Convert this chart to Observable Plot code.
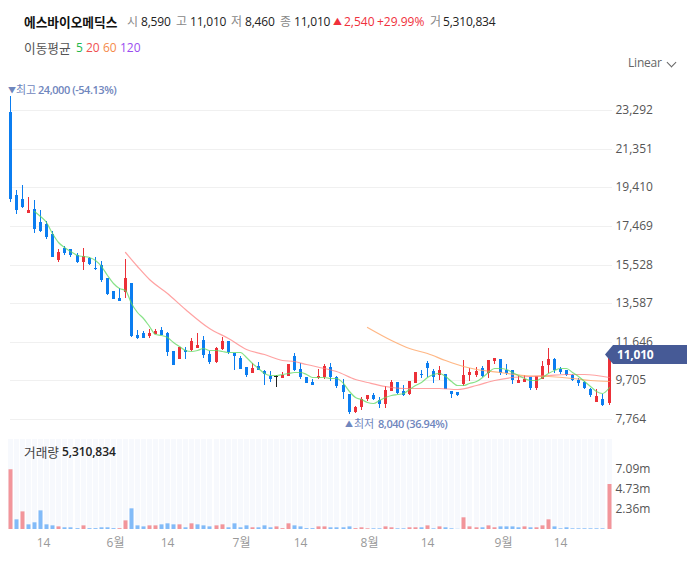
<!DOCTYPE html>
<html>
<head>
<meta charset="utf-8">
<script src="https://cdn.jsdelivr.net/npm/d3@7"></script>
<script src="https://cdn.jsdelivr.net/npm/@observablehq/plot@0.6"></script>
<style>
  body { margin: 0; background: #fff; }
  #page { position: relative; width: 687px; height: 562px; overflow: hidden; font-family: "Open Sans", "Noto Sans CJK KR", sans-serif; font-size: 12px; }
  #page > div { position: absolute; }
  .lbl { white-space: nowrap; line-height: 16px; }
  #flag { left: 605px; top: 345px; width: 82px; height: 19px; background: #465a96; clip-path: polygon(0 50%, 8px 0, 100% 0, 100% 100%, 8px 100%); color: #fff; font-weight: 700; line-height: 19px; padding-left: 12px; box-sizing: border-box; letter-spacing: -0.2px; }
</style>
</head>
<body>
<div id="page"></div>
<script>
const opens = [23190,19020,18820,18120,18320,17660,17560,17060,15750,16360,16310,16000,15650,15850,15350,15500,14850,14200,13840,14150,
  14600,11980,12090,11930,12030,12240,12090,11180,10780,11230,11230,11330,11730,11030,10630,11280,11680,11080,10810,10380,
  10080,10430,10180,9930,9900,9820,9930,10930,10290,9880,9620,9810,9880,10380,9880,9470,9020,8120,8370,8770,
  8970,8720,8520,9170,9620,9170,9020,9560,10030,10580,10180,9980,10030,9170,9120,9520,9980,9980,10330,10080,
  10680,10780,10230,10230,9570,9620,9880,9320,9770,10480,10780,10280,10230,9980,9720,9620,9270,8620,8770,8590];
const highs = [24000,19270,19520,18900,18770,18270,17730,17210,16290,16470,16310,16110,16360,15900,15900,15700,14850,14200,14350,15800,
  14600,12240,12190,12290,12300,12390,12140,11180,11380,11380,11820,12070,11930,11180,11380,11880,11680,11080,10930,10380,
  10560,10630,10230,10160,9980,10130,10530,11080,10580,9880,9770,10280,10530,10580,9930,9770,9020,8420,8870,8970,
  9070,8870,9420,9720,9620,9470,9670,10130,10230,10680,10280,10430,10030,9170,9120,10730,10330,10380,10430,10730,
  10830,10780,10530,10230,9930,9980,9880,9930,10680,11330,10830,10380,10230,10030,9820,9670,9320,9270,9020,11010];
const lows = [18680,18070,18370,18120,17130,17150,16810,15900,15650,15990,15900,15600,15250,15500,15250,14650,13980,13790,13690,13840,
  11880,11780,11830,11830,12020,11980,10930,10480,10780,10780,11180,11330,10830,10530,10580,11230,11030,10230,10280,9890,
  10080,10230,9470,9620,9390,9820,9930,10180,9770,9570,9470,9770,9770,9670,9320,8770,8040,8080,8220,8670,
  8720,8320,8320,9170,9020,8900,8970,9560,9810,9860,9560,9720,9270,8820,8920,9420,9670,9880,9880,9820,
  10530,9980,9980,9520,9570,9620,9220,9220,9770,10080,10080,10030,9930,9670,9420,9270,8870,8620,8420,8460];
const closes = [18830,18280,18430,18270,17330,17210,16910,15900,16160,16110,16000,15650,15950,15550,15320,14750,14050,13790,13690,14850,
  11930,11830,11830,12090,12190,11980,11130,10480,11380,11150,11680,11480,10980,10630,11330,11680,11130,10950,10280,9980,
  10330,10230,10030,9770,9900,9980,10530,10230,9880,9570,9470,9930,10430,9880,9420,9120,8120,8370,8770,8970,
  8770,8520,9220,9620,9070,8970,9670,10130,9980,10330,9880,10230,9270,9020,8970,9980,10130,10180,9930,10730,
  10830,10080,10080,9720,9720,9770,9320,9930,10430,10780,10230,10130,9980,9720,9570,9320,8970,8920,8470,11010];

const ma5Start = 4;
const ma5 = [18230,17970,17680,17110,16660,16420,16210,16000,15950,15900,15750,15450,15000,14600,14360,14250,
  13610,13160,12820,12450,12020,11980,11870,11620,11450,11230,11200,11230,11320,11230,11210,11180,11150,11130,11120,10890,
  10560,10310,10090,9990,9980,10030,10090,10110,10110,10030,9890,9860,9850,9840,9810,9560,9180,8880,8760,8630,
  8580,8720,8860,8990,9020,9090,9260,9450,9640,9860,10030,10060,9920,9690,9470,9470,9560,9690,9890,10140,
  10330,10340,10260,10140,9980,9810,9720,9720,9860,10090,10230,10330,10310,10140,9920,9670,9420,9180,9050,9360];
const ma20Idx = [19,21,23,26,29,33,36,39,42,45,47,49,52,54,57,59,62,65,68,71,74,77,80,83,86,89,92,95,99];
const ma20 = [16150,15450,14780,14110,13280,12350,11830,11300,11050,10730,10680,10510,10330,10190,9790,9640,9420,9320,9320,9310,9260,9470,9720,9870,9930,9960,10030,10030,9860];
const ma60Idx = [59,63,66,69,72,75,77,81,85,89,93,96,99];
const ma60 = [12370,11730,11350,11060,10750,10450,10260,10140,9980,9910,9840,9720,9690];

// volumes in millions of shares
const volumes = [7.05,1.14,2.08,0.55,0.79,2.2,0.55,0.43,0.31,0.2,0.2,0.1,0.43,0.1,0.1,0.2,0.2,0.1,0.1,1.02,
  2.44,0.43,0.31,0.43,0.43,0.55,0.67,0.55,0.55,0.2,0.67,0.55,0.43,0.31,0.43,0.55,0.2,0.67,0.2,0.43,
  0.2,0.2,0.43,0.2,0.31,0.1,0.67,0.43,0.31,0.1,0.1,0.31,0.31,0.2,0.2,0.2,0.31,0.1,0.2,0.08,
  0.08,0.08,0.31,0.2,0.08,0.08,0.2,0.2,0.2,0.43,0.08,0.31,0.2,0.08,0.02,1.38,0.31,0.2,0.2,0.43,
  0.2,0.31,0.31,0.31,0.2,0.31,0.2,0.2,0.43,1.14,0.31,0.08,0.2,0.08,0.08,0.08,0.08,0.08,0.08,5.31];
// days whose volume bar is red
const volumeUpDays = [0,2,8,12,18,19,23,24,28,30,34,35,40,44,45,46,51,52,57,58,59,62,63,66,67,69,71,75,76,77,79,80,85,87,88,89,99];

const priceTicks = [7764,9705,11646,13587,15528,17469,19410,21351,23292];
const volumeTicks = [2.36,4.73,7.09];
const monthTicks = [5.4,17.3,26,38.2,48,59.4,68.9,81.5,91];
const monthLabels = ["14","6월","14","7월","14","8월","14","9월","14"];

const RED = "#ec3038";
const BLUE = "#0b7df0";
const FONT = '"Open Sans", "Noto Sans CJK KR", sans-serif';
const xRange = [10, 608.5];

const candles = closes.map((c, i) => ({i, open: opens[i], high: highs[i], low: lows[i], close: c}));
const kind = d => d.close > d.open ? "up" : d.close < d.open ? "down" : "flat";

function candleMarks(k, color) {
  const rows = candles.filter(d => kind(d) === k);
  return [
    Plot.ruleX(rows, {x: "i", y1: "low", y2: "high", stroke: color, strokeWidth: 1}),
    Plot.ruleX(rows, {x: "i", y1: "open", y2: "close", stroke: color, strokeWidth: 3})
  ];
}

const pricePlot = Plot.plot({
  width: 687,
  height: 350,
  marginTop: 0, marginBottom: 0, marginLeft: 10, marginRight: 75,
  style: {fontFamily: FONT, fontSize: "12px", background: "transparent"},
  x: {type: "linear", domain: [0, 99], range: xRange, round: true, axis: null},
  y: {domain: [7764, 23292], range: [339, 30], round: true},
  marks: [
    Plot.gridY(priceTicks, {stroke: "#f0f0f0", strokeOpacity: 1}),
    Plot.axisY(priceTicks, {anchor: "right", tickSize: 0, tickPadding: 3, tickFormat: d3.format(","), label: null, color: "#555", fontSize: 12}),
    ...candleMarks("up", RED),
    ...candleMarks("down", BLUE),
    Plot.ruleX(candles.filter(d => kind(d) === "flat"), {x: "i", y1: "low", y2: "high", stroke: "#222"}),
    Plot.ruleY(candles.filter(d => kind(d) === "flat"), {y: "close", x1: d => d.i - 0.3, x2: d => d.i + 0.3, stroke: "#222"}),
    Plot.line(ma60, {x: (d, i) => ma60Idx[i], y: d => d, stroke: "#ffa566", strokeOpacity: 0.8, strokeWidth: 1.2, curve: "monotone-x"}),
    Plot.line(ma20, {x: (d, i) => ma20Idx[i], y: d => d, stroke: "#ff7b7b", strokeOpacity: 0.7, strokeWidth: 1.2, curve: "monotone-x"}),
    Plot.line(ma5, {x: (d, i) => i + ma5Start, y: d => d, stroke: "#60d860", strokeOpacity: 0.75, strokeWidth: 1.2, curve: "monotone-x"})
  ]
});

const volumeRows = volumes.map((v, i) => ({i, v, up: volumeUpDays.includes(i)}));

const volumePlot = Plot.plot({
  width: 687,
  height: 127,
  marginTop: 4, marginBottom: 33, marginLeft: 10, marginRight: 75,
  style: {fontFamily: FONT, fontSize: "12px", background: "transparent"},
  x: {type: "linear", domain: [0, 99], range: xRange, round: true},
  y: {domain: [0, 10.62]},
  marks: [
    Plot.ruleX(volumeRows, {x: "i", y1: 0, y2: 10.62, stroke: "#f7f9fd", strokeWidth: 5}),
    Plot.ruleX(volumeRows.filter(d => d.up), {x: "i", y1: 0, y2: "v", stroke: "#f2959a", strokeWidth: 4}),
    Plot.ruleX(volumeRows.filter(d => !d.up), {x: "i", y1: 0, y2: "v", stroke: "#82bbf8", strokeWidth: 4}),
    Plot.axisY(volumeTicks, {anchor: "right", tickSize: 0, tickPadding: 3, tickFormat: d => d + "m", label: null, color: "#555", fontSize: 12}),
    Plot.axisX(monthTicks, {anchor: "bottom", tickSize: 0, tickPadding: 9, tickFormat: d => monthLabels[monthTicks.indexOf(d)], label: null, color: "#999", fontSize: 12})
  ]
});

const page = document.getElementById("page");

function place(el, top) {
  const box = document.createElement("div");
  box.style.cssText = `left:0;top:${top}px`;
  box.appendChild(el);
  page.appendChild(box);
}
place(pricePlot, 80);
place(volumePlot, 435);

function label(x, y, text, css) {
  const el = document.createElement("div");
  el.className = "lbl";
  el.textContent = text;
  el.style.cssText = `left:${x}px;top:${y - 8}px;${css || ""}`;
  page.appendChild(el);
}

const GREY = "color:#888";
const DARK = "color:#222;letter-spacing:-0.2px";
const UP = "color:#f0303c";
const NOTE = "color:#6f86bd";
const NOTE_BOLD = NOTE + ";font-weight:600;font-size:11px;letter-spacing:-0.45px";
label(24, 22, "에스바이오메딕스", "color:#111;font-weight:700;font-size:12.7px");
label(127, 22, "시", GREY);
label(141, 22, "8,590", DARK);
label(176, 22, "고", GREY);
label(190, 22, "11,010", DARK);
label(231, 22, "저", GREY);
label(245, 22, "8,460", DARK);
label(280, 22, "종", GREY);
label(294, 22, "11,010", DARK);
label(333, 22, "▲", UP + ";font-size:9px");
label(344, 22, "2,540", UP);
label(377, 22, "+29.99%", UP);
label(430, 22, "거", GREY);
label(443, 22, "5,310,834", DARK);

label(24, 48, "이동평균", "color:#555;font-size:12.7px");
label(76, 48, "5", "color:#22b84c");
label(86, 48, "20", "color:#f05050");
label(103, 48, "60", "color:#f58a4a");
label(120, 48, "120", "color:#9a4df0");

label(628, 63, "Linear", "color:#666;letter-spacing:-0.2px");
label(8, 90, "▼", NOTE + ";font-size:8px");
label(16, 90, "최고", NOTE + ";font-size:11px");
label(38, 90, "24,000 (-54.13%)", NOTE_BOLD);
label(345, 424, "▲", NOTE + ";font-size:8px");
label(354, 424, "최저", NOTE + ";font-size:11px");
label(378, 424, "8,040 (36.94%)", NOTE_BOLD);
label(24, 452, "거래량", "color:#444;font-size:12.7px");
label(62, 452, "5,310,834", "color:#222;font-weight:600;letter-spacing:-0.1px");

const flag = document.createElement("div");
flag.id = "flag";
flag.textContent = "11,010";
page.appendChild(flag);

// chevron next to "Linear"
const chevron = document.createElement("div");
chevron.style.cssText = "left:668px;top:59px;width:6px;height:6px;border-right:1px solid #666;border-bottom:1px solid #666;transform:rotate(45deg)";
page.appendChild(chevron);
</script>
</body>
</html>
